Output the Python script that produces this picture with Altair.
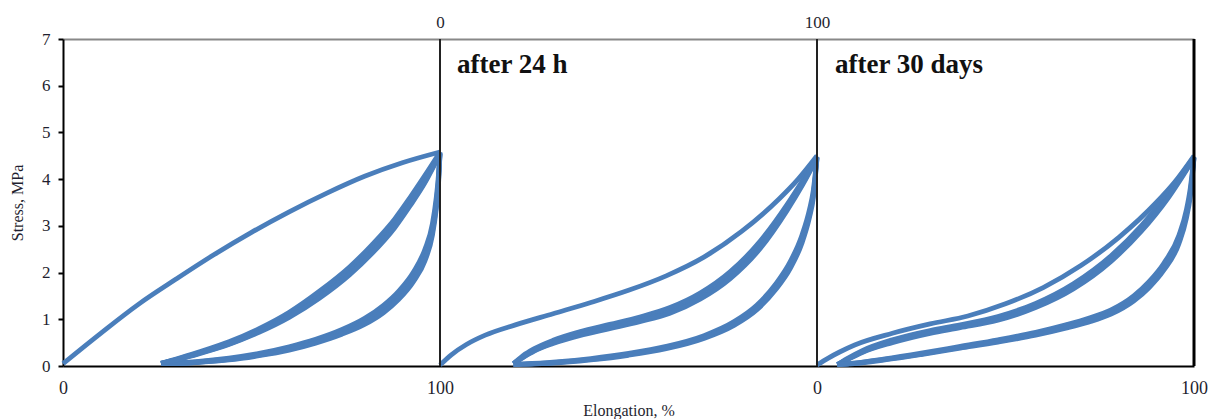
import altair as alt
import pandas as pd

# ---------------- data ----------------
panel_offsets = [0, 100, 200]          # three 0-100 % panels on one axis
panel_names = ["initial", "after 24 h", "after 30 days"]

# Panel 1 (initial)
p1_load_e = [0, 10, 20, 30, 40, 50, 60, 70, 80, 90, 100]
p1_load_s = [0.05, 0.70, 1.32, 1.86, 2.38, 2.86, 3.30, 3.70, 4.06, 4.35, 4.58]

p1_unl_e = [100, 99.5, 99, 98, 96, 93, 89, 85, 80, 74, 67, 60, 52, 44, 36, 30, 26]
p1_unl1_s = [4.58, 4.00, 3.60, 3.05, 2.50, 2.02, 1.60, 1.30, 1.02, 0.78, 0.57, 0.41, 0.27, 0.17, 0.10, 0.07, 0.05]
p1_unl2_s = [4.56, 3.90, 3.50, 2.95, 2.40, 1.94, 1.53, 1.24, 0.97, 0.74, 0.54, 0.38, 0.25, 0.15, 0.09, 0.06, 0.05]
p1_unl3_s = [4.55, 3.82, 3.42, 2.87, 2.32, 1.87, 1.47, 1.19, 0.93, 0.71, 0.51, 0.36, 0.23, 0.14, 0.08, 0.06, 0.05]
p1_unl4_s = [4.54, 3.75, 3.35, 2.80, 2.25, 1.81, 1.42, 1.14, 0.89, 0.68, 0.49, 0.34, 0.22, 0.13, 0.08, 0.05, 0.05]

p1_rel_e = [26, 30, 36, 44, 52, 60, 68, 76, 82, 88, 92, 96, 100]
p1_rel1_s = [0.06, 0.15, 0.30, 0.52, 0.80, 1.15, 1.60, 2.12, 2.60, 3.15, 3.60, 4.08, 4.58]
p1_rel2_s = [0.06, 0.14, 0.28, 0.49, 0.76, 1.09, 1.52, 2.03, 2.50, 3.05, 3.50, 4.00, 4.56]
p1_rel3_s = [0.05, 0.13, 0.27, 0.47, 0.74, 1.06, 1.48, 1.98, 2.45, 3.00, 3.45, 3.95, 4.55]
p1_rel4_s = [0.05, 0.13, 0.26, 0.46, 0.72, 1.04, 1.45, 1.95, 2.41, 2.96, 3.42, 3.92, 4.54]

# Panel 2 (after 24 h)
p2_load_e = [0, 3, 7, 12, 20, 30, 40, 50, 60, 70, 80, 90, 95, 100]
p2_load_s = [0.02, 0.24, 0.46, 0.66, 0.88, 1.12, 1.36, 1.62, 1.93, 2.33, 2.88, 3.58, 4.00, 4.50]

p2_rel_e = [19.5, 22, 25, 30, 37, 45, 53, 61, 69, 77, 85, 92, 96, 100]
p2_rel1_s = [0.05, 0.22, 0.37, 0.55, 0.73, 0.89, 1.05, 1.25, 1.56, 2.02, 2.68, 3.45, 3.95, 4.48]
p2_rel2_s = [0.05, 0.19, 0.33, 0.50, 0.67, 0.82, 0.97, 1.16, 1.46, 1.91, 2.56, 3.36, 3.88, 4.46]
p2_rel3_s = [0.05, 0.18, 0.32, 0.48, 0.65, 0.80, 0.95, 1.13, 1.43, 1.87, 2.52, 3.32, 3.85, 4.45]

p2_unl_e = [100, 99, 98, 96, 93, 89, 84, 78, 70, 60, 50, 40, 30, 22, 19.5]
p2_unl1_s = [4.48, 3.75, 3.35, 2.80, 2.25, 1.75, 1.30, 0.95, 0.65, 0.42, 0.27, 0.16, 0.08, 0.04, 0.03]
p2_unl2_s = [4.46, 3.65, 3.25, 2.70, 2.16, 1.68, 1.24, 0.90, 0.61, 0.39, 0.25, 0.14, 0.07, 0.04, 0.03]
p2_unl3_s = [4.45, 3.58, 3.18, 2.63, 2.10, 1.63, 1.20, 0.87, 0.59, 0.37, 0.23, 0.13, 0.06, 0.04, 0.03]

# Panel 3 (after 30 days)
p3_load_e = [0, 3, 6, 10, 20, 30, 40, 50, 60, 70, 80, 90, 95, 100]
p3_load_s = [0.02, 0.17, 0.30, 0.45, 0.70, 0.90, 1.07, 1.33, 1.68, 2.15, 2.75, 3.50, 3.95, 4.50]

p3_rel_e = [5.4, 8, 12, 20, 30, 38, 48, 58, 68, 78, 86, 93, 100]
p3_rel1_s = [0.03, 0.16, 0.33, 0.56, 0.76, 0.88, 1.06, 1.34, 1.76, 2.36, 3.00, 3.70, 4.48]
p3_rel2_s = [0.03, 0.14, 0.30, 0.52, 0.72, 0.84, 1.01, 1.28, 1.69, 2.28, 2.92, 3.62, 4.46]
p3_rel3_s = [0.03, 0.13, 0.29, 0.50, 0.70, 0.82, 0.98, 1.25, 1.65, 2.24, 2.88, 3.58, 4.45]

p3_unl_e = [100, 99, 98, 96, 92, 88, 84, 78, 72, 66, 58, 48, 38, 28, 18, 10, 5.4]
p3_unl1_s = [4.48, 3.80, 3.35, 2.80, 2.20, 1.80, 1.50, 1.20, 1.02, 0.88, 0.72, 0.56, 0.42, 0.28, 0.15, 0.06, 0.03]
p3_unl2_s = [4.46, 3.70, 3.25, 2.70, 2.12, 1.73, 1.44, 1.15, 0.97, 0.84, 0.69, 0.53, 0.40, 0.26, 0.14, 0.06, 0.03]
p3_unl3_s = [4.45, 3.62, 3.17, 2.62, 2.05, 1.67, 1.39, 1.11, 0.94, 0.81, 0.66, 0.51, 0.38, 0.25, 0.13, 0.05, 0.03]

# axis tick values / labels
bottom_ticks = [0, 100, 200, 300]
top_ticks = [100, 200]
y_ticks = [0, 1, 2, 3, 4, 5, 6, 7]

# annotations
ann_text = ["after 24 h", "after 30 days"]
ann_x = [104.5, 204.8]
ann_y = [6.27, 6.27]

# panel separators
sep_x = [100, 200]
right_x = [300]

# ---------------- build table ----------------
curves = [
    (0, "p1_load", p1_load_e, p1_load_s),
    (0, "p1_u1", p1_unl_e, p1_unl1_s),
    (0, "p1_u2", p1_unl_e, p1_unl2_s),
    (0, "p1_u3", p1_unl_e, p1_unl3_s),
    (0, "p1_u4", p1_unl_e, p1_unl4_s),
    (0, "p1_r1", p1_rel_e, p1_rel1_s),
    (0, "p1_r2", p1_rel_e, p1_rel2_s),
    (0, "p1_r3", p1_rel_e, p1_rel3_s),
    (0, "p1_r4", p1_rel_e, p1_rel4_s),
    (1, "p2_load", p2_load_e, p2_load_s),
    (1, "p2_r1", p2_rel_e, p2_rel1_s),
    (1, "p2_r2", p2_rel_e, p2_rel2_s),
    (1, "p2_r3", p2_rel_e, p2_rel3_s),
    (1, "p2_u1", p2_unl_e, p2_unl1_s),
    (1, "p2_u2", p2_unl_e, p2_unl2_s),
    (1, "p2_u3", p2_unl_e, p2_unl3_s),
    (2, "p3_load", p3_load_e, p3_load_s),
    (2, "p3_r1", p3_rel_e, p3_rel1_s),
    (2, "p3_r2", p3_rel_e, p3_rel2_s),
    (2, "p3_r3", p3_rel_e, p3_rel3_s),
    (2, "p3_u1", p3_unl_e, p3_unl1_s),
    (2, "p3_u2", p3_unl_e, p3_unl2_s),
    (2, "p3_u3", p3_unl_e, p3_unl3_s),
]
rows = []
for p, name, es, ss in curves:
    for e, s in zip(es, ss):
        rows.append({"curve": name, "x": panel_offsets[p] + e, "s": s})
df = pd.DataFrame(rows)

FONT = "Liberation Serif"
BLUE = "#4a7ebb"
TXT = "#1f1f2f"
xscale = alt.Scale(domain=[0, 300], nice=False, zero=False)
yscale = alt.Scale(domain=[0, 7], nice=False)

y_axis = alt.Axis(values=y_ticks, tickSize=5, tickWidth=2, tickColor="black",
                  domainColor="black", domainWidth=2, grid=False,
                  labelFont=FONT, labelFontSize=17, labelColor=TXT,
                  labelPadding=8, title="Stress, MPa", titleFont=FONT,
                  titleFontSize=16, titleFontWeight="normal",
                  titleColor=TXT, titlePadding=16)

lines = alt.Chart(df).mark_line(color=BLUE, strokeWidth=4.8, interpolate="monotone").encode(
    x=alt.X("x:Q", scale=xscale,
            axis=alt.Axis(orient="bottom", values=bottom_ticks, ticks=False, tickSize=0,
                          labelExpr="(datum.value == 0 || datum.value == 200) ? '0' : '100'",
                          grid=False, domainColor="black", domainWidth=2,
                          labelFont=FONT, labelFontSize=18, labelColor=TXT,
                          labelPadding=13, labelFlush=False,
                          title="Elongation, %", titleFont=FONT, titleFontSize=16,
                          titleFontWeight="normal", titleColor=TXT, titlePadding=5)),
    y=alt.Y("s:Q", scale=yscale, axis=y_axis),
    detail="curve:N",
)

top_df = pd.DataFrame({"x": top_ticks})
top_axis = alt.Chart(top_df).mark_point(opacity=0).encode(
    x=alt.X("x:Q", scale=xscale,
            axis=alt.Axis(orient="top", values=top_ticks, ticks=False, tickSize=0,
                          labelExpr="datum.value == 100 ? '0' : '100'",
                          grid=False, domainColor="#888888", domainWidth=2,
                          labelFont=FONT, labelFontSize=17, labelColor=TXT,
                          labelPadding=8, labelFlush=False, title=None)),
)

sep = alt.Chart(pd.DataFrame({"x": sep_x})).mark_rule(color="#222222", strokeWidth=2).encode(
    x=alt.X("x:Q", scale=xscale, axis=None),
)
right = alt.Chart(pd.DataFrame({"x": right_x})).mark_rule(color="black", strokeWidth=3).encode(
    x=alt.X("x:Q", scale=xscale, axis=None),
)

ann = alt.Chart(pd.DataFrame({"t": ann_text, "x": ann_x, "y": ann_y})).mark_text(
    align="left", baseline="alphabetic", font=FONT, fontSize=27, fontWeight="bold", color="#111111"
).encode(
    x=alt.X("x:Q", scale=xscale, axis=None),
    y=alt.Y("y:Q", scale=yscale, axis=y_axis),
    text="t:N",
)

chart = alt.layer(lines, top_axis, sep, right, ann).resolve_axis(x="independent").properties(
    width=1131, height=327,
    padding={"left": 63, "top": 39, "right": 14, "bottom": 53},
    autosize=alt.AutoSizeParams(type="none"),
    background="white",
).configure_view(stroke=None)

chart.save("out.html", embed_options={"renderer": "svg", "actions": False})
